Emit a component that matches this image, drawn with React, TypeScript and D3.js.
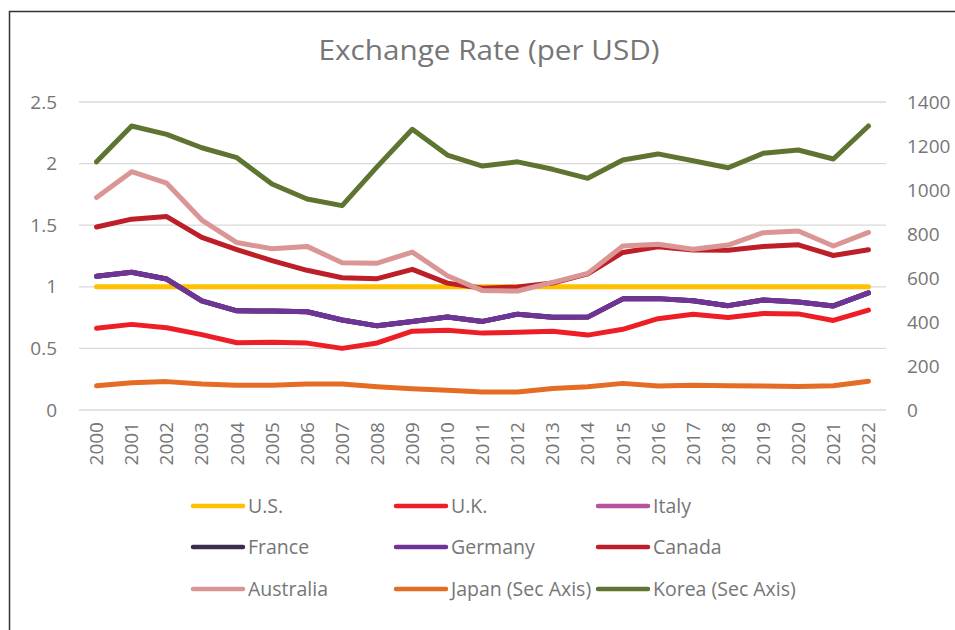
import { useEffect, useRef } from "react";
import * as d3 from "d3";

const years = ["2000","2001","2002","2003","2004","2005","2006","2007","2008","2009","2010","2011","2012","2013","2014","2015","2016","2017","2018","2019","2020","2021","2022"];

const us = [1,1,1,1,1,1,1,1,1,1,1,1,1,1,1,1,1,1,1,1,1,1,1];
const uk = [0.663,0.695,0.667,0.612,0.546,0.550,0.543,0.500,0.544,0.640,0.647,0.624,0.631,0.640,0.608,0.655,0.741,0.777,0.750,0.784,0.780,0.727,0.811];
const euro = [1.085,1.118,1.063,0.886,0.805,0.804,0.797,0.731,0.683,0.719,0.755,0.719,0.778,0.753,0.754,0.902,0.904,0.887,0.847,0.893,0.877,0.845,0.951];
const canada = [1.485,1.549,1.570,1.401,1.302,1.212,1.134,1.074,1.066,1.142,1.030,0.989,0.999,1.030,1.105,1.279,1.325,1.298,1.296,1.327,1.341,1.254,1.301];
const australia = [1.725,1.934,1.841,1.542,1.359,1.309,1.328,1.195,1.192,1.282,1.090,0.969,0.966,1.036,1.109,1.331,1.345,1.304,1.339,1.439,1.453,1.331,1.442];
const japan = [110,124,129,118,112,112,118,118,106,97,90,82,82,98,106,121,109,112,110,109,107,110,131];
const korea = [1128,1291,1253,1192,1147,1027,959,929,1106,1276,1159,1109,1128,1094,1053,1136,1164,1133,1101,1167,1182,1141,1291];

const leftTicks = [0, 0.5, 1, 1.5, 2, 2.5];
const rightTicks = [0, 200, 400, 600, 800, 1000, 1200, 1400];

// drawing order = series order; legend laid out 3 per row
const series = [
  { name: "U.S.", values: us, color: "#FFC000", sec: false },
  { name: "U.K.", values: uk, color: "#EE1E26", sec: false },
  { name: "Italy", values: euro, color: "#B6529E", sec: false },
  { name: "France", values: euro, color: "#3D2C4E", sec: false },
  { name: "Germany", values: euro, color: "#6F3596", sec: false },
  { name: "Canada", values: canada, color: "#BE1E28", sec: false },
  { name: "Australia", values: australia, color: "#DA9694", sec: false },
  { name: "Japan (Sec Axis)", values: japan, color: "#E46C25", sec: true },
  { name: "Korea (Sec Axis)", values: korea, color: "#5E7531", sec: true },
];

const W = 955, H = 630;
const font = "'Open Sans', 'Noto Sans', sans-serif";
const textColor = "#767676";

export default function App() {
  const svgRef = useRef<SVGSVGElement>(null);

  useEffect(() => {
    const svg = d3.select(svgRef.current);
    svg.selectAll("*").remove();

    const x = d3.scaleBand().domain(years).range([79, 886]);
    const yL = d3.scaleLinear().domain([0, 2.5]).range([410, 102]);
    const yR = d3.scaleLinear().domain([0, 1400]).range([410, 102]);

    svg.append("rect").attr("width", W).attr("height", H).attr("fill", "#fff");

    // frame
    svg.append("path")
      .attr("d", `M9.5,${H} V11.5 H${W}`)
      .attr("fill", "none")
      .attr("stroke", "#333")
      .attr("stroke-width", 1.5);

    svg.append("text")
      .attr("transform", "translate(489,60) scale(1.06,1)")
      .attr("text-anchor", "middle")
      .attr("font-family", font)
      .attr("font-size", 28)
      .attr("fill", textColor)
      .text("Exchange Rate (per USD)");

    // gridlines
    svg.append("g").selectAll("line")
      .data(leftTicks)
      .join("line")
      .attr("x1", 79).attr("x2", 886)
      .attr("y1", d => yL(d)).attr("y2", d => yL(d))
      .attr("stroke", "#d9d9d9").attr("stroke-width", 1.3);

    svg.append("g").selectAll("text")
      .data(leftTicks)
      .join("text")
      .attr("x", 57).attr("y", d => yL(d))
      .attr("dy", "0.35em")
      .attr("text-anchor", "end")
      .attr("font-family", font).attr("font-size", 19)
      .attr("fill", textColor)
      .text(d => String(d));

    svg.append("g").selectAll("text")
      .data(rightTicks)
      .join("text")
      .attr("x", 907).attr("y", d => yR(d))
      .attr("dy", "0.35em")
      .attr("text-anchor", "start")
      .attr("font-family", font).attr("font-size", 19)
      .attr("fill", textColor)
      .text(d => String(d));

    svg.append("g").selectAll("text")
      .data(years)
      .join("text")
      .attr("transform", d => `translate(${x(d)! + x.bandwidth() / 2},422) rotate(-90)`)
      .attr("dy", "0.35em")
      .attr("text-anchor", "end")
      .attr("font-family", font).attr("font-size", 19)
      .attr("fill", textColor)
      .text(d => d);

    const lines = svg.append("g")
      .attr("fill", "none")
      .attr("stroke-width", 5)
      .attr("stroke-linejoin", "round")
      .attr("stroke-linecap", "round");

    series.forEach(s => {
      const yy = s.sec ? yR : yL;
      const line = d3.line<number>()
        .x((_, i) => x(years[i])! + x.bandwidth() / 2)
        .y(v => yy(v));
      lines.append("path")
        .attr("d", line(s.values))
        .attr("stroke", s.color);
    });

    // legend
    const colX = [193, 396, 598];
    const rowY = [506, 547, 589];
    const leg = svg.append("g").selectAll("g")
      .data(series)
      .join("g")
      .attr("transform", (_, i) => `translate(${colX[i % 3]},${rowY[Math.floor(i / 3)]})`);
    leg.append("line")
      .attr("x1", 0).attr("x2", 50)
      .attr("stroke", d => d.color)
      .attr("stroke-width", 4.5)
      .attr("stroke-linecap", "round");
    leg.append("text")
      .attr("x", 55).attr("dy", "0.35em")
      .attr("font-family", font).attr("font-size", 19.5)
      .attr("fill", textColor)
      .text(d => d.name);
  }, []);

  return (
    <svg ref={svgRef} width={W} height={H}
      style={{ position: "absolute", left: 0, top: 0, display: "block" }} />
  );
}
